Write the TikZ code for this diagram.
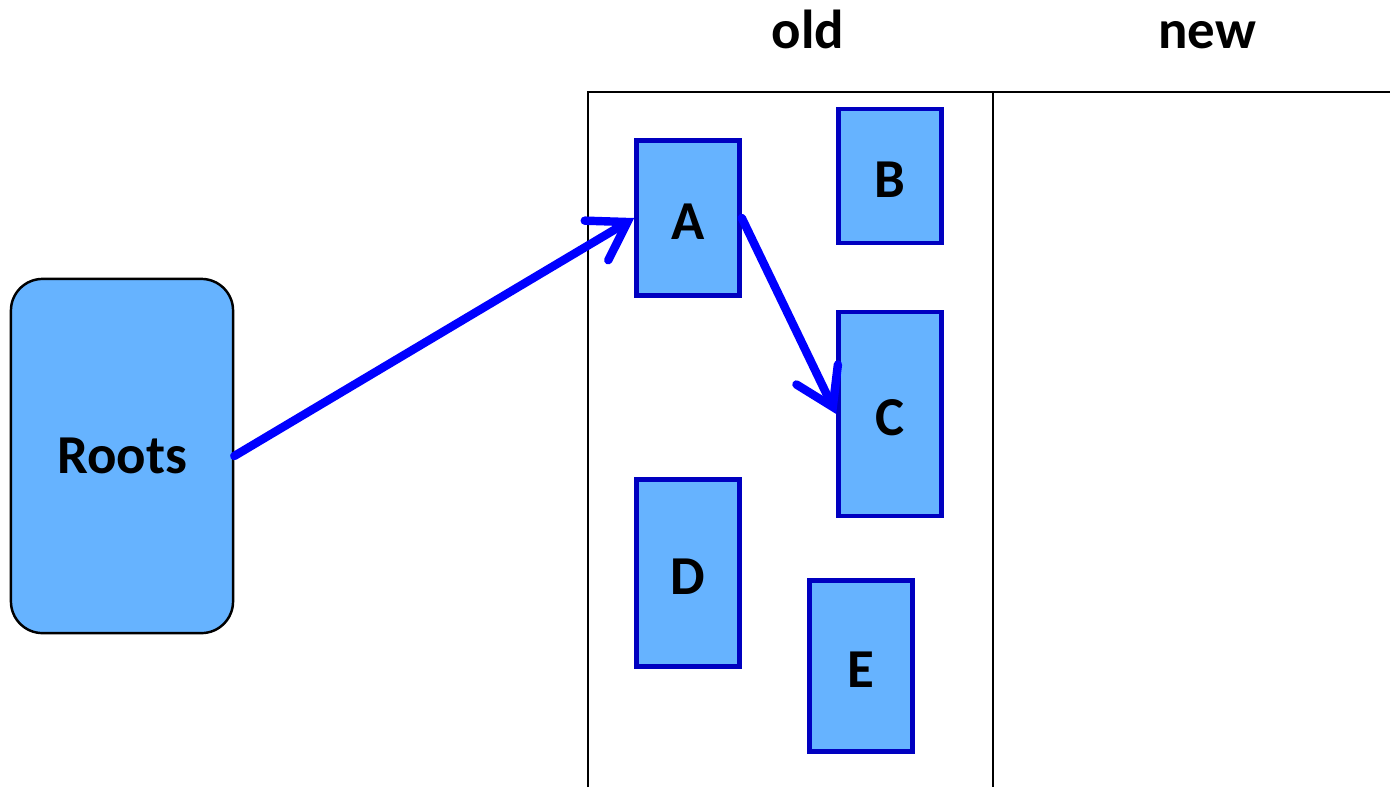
\documentclass[tikz,border=0pt]{standalone}
\usepackage{fontspec}
\setmainfont{Carlito}
\usepackage{tikz}
\usetikzlibrary{arrows.meta, positioning}
\definecolor{objfill}{HTML}{66B3FF}
\definecolor{objedge}{HTML}{0000C0}
\definecolor{refblue}{HTML}{0000FF}

\begin{document}
\begin{tikzpicture}[
    x=0.01cm, y=-0.01cm,
    heap/.style={rectangle, draw=objedge, fill=objfill, line width=1.3pt, minimum width=1.03cm, minimum height=#1, inner sep=0pt, text height=0.43cm, text depth=0pt, font=\fontsize{15.6}{18}\selectfont\bfseries},
    rootset/.style={rectangle, rounded corners=9pt, draw=black, fill=objfill, line width=0.7pt, minimum width=2.22cm, minimum height=3.54cm, font=\fontsize{15.6}{18}\selectfont\bfseries},
    title/.style={anchor=base, font=\fontsize{15.6}{18}\selectfont\bfseries},
    ref/.style={-{Straight Barb[length=3.6mm, width=4.6mm, line cap=round]}, line width=2.4pt, line cap=round, color=refblue}
]
\useasboundingbox (0,0) rectangle (1390,787);

% Spaces
\draw[line width=0.7pt] (588,787) -- (588,92) -- (1390,92);
\draw[line width=0.7pt] (993,92) -- (993,787);
\node[title] (old) at (808,48) {old};
\node[title] (new) at (1207,48) {new};

% Objects
\node[rootset] (roots) at (122,456) {Roots};
\node[heap=1.55cm] (A) at (688,218) {A};
\node[heap=1.34cm] (B) at (890,176) {B};
\node[heap=2.04cm] (C) at (890,414) {C};
\node[heap=1.87cm] (D) at (688,573) {D};
\node[heap=1.71cm] (E) at (861,666) {E};

% References
\draw[ref] (roots.east) -- (A.west);
\draw[ref] (A.east) -- (C.west);

\end{tikzpicture}
\end{document}
